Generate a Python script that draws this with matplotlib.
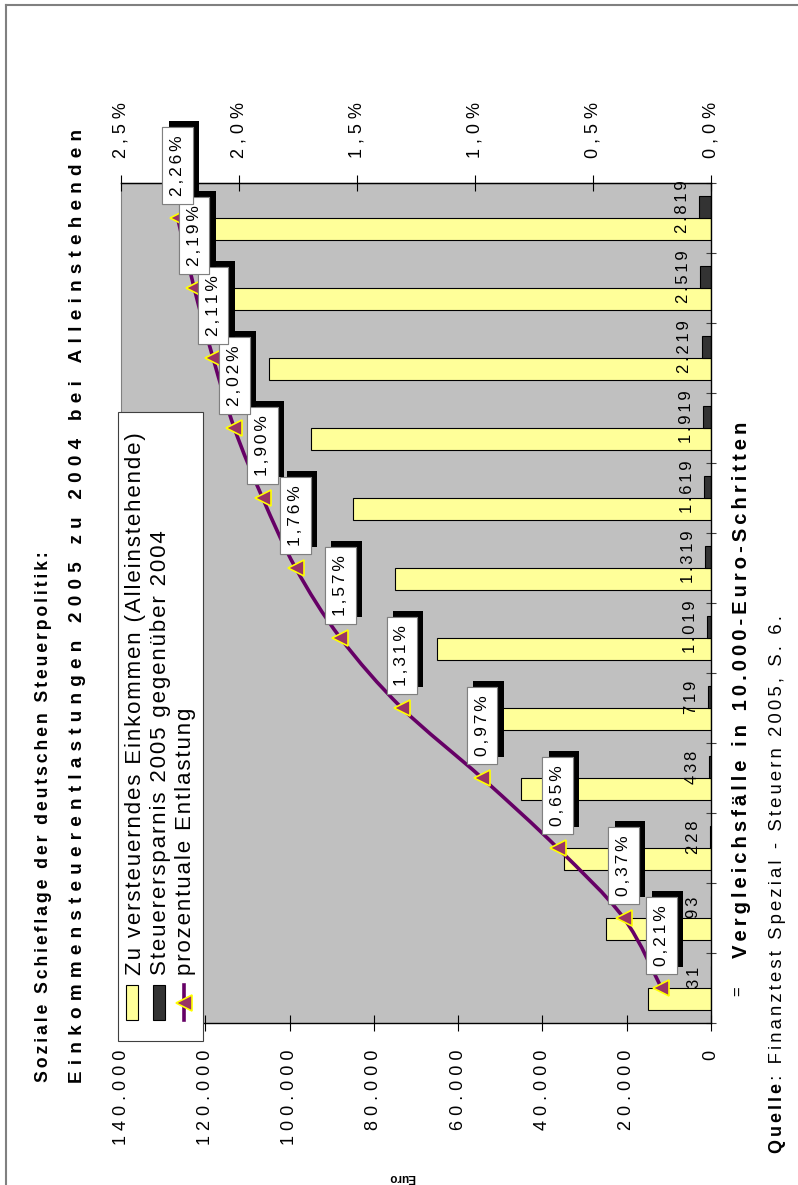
import numpy as np
import matplotlib
matplotlib.use("Agg")
import matplotlib.pyplot as plt
from matplotlib.path import Path
from matplotlib.patches import PathPatch, Rectangle
from matplotlib.lines import Line2D
import matplotlib.patheffects as pe

# ---- data -------------------------------------------------------------
income = [15000, 25000, 35000, 45000, 55000, 65000,
          75000, 85000, 95000, 105000, 115000, 125000]
savings = [31, 93, 228, 438, 719, 1019, 1319, 1619, 1919, 2219, 2519, 2819]
relief_pct = [0.21, 0.37, 0.65, 0.97, 1.31, 1.57, 1.76, 1.90, 2.02, 2.11, 2.19, 2.26]

euro_ticks = [0, 20000, 40000, 60000, 80000, 100000, 120000, 140000]
euro_tick_labels = ["0", "20.000", "40.000", "60.000", "80.000",
                    "100.000", "120.000", "140.000"]
pct_ticks = [0.0, 0.5, 1.0, 1.5, 2.0, 2.5]
pct_tick_labels = ["0,0%", "0,5%", "1,0%", "1,5%", "2,0%", "2,5%"]

legend_labels = ["Zu versteuerndes Einkommen (Alleinstehende)",
                 "Steuerersparnis 2005 gegenüber 2004",
                 "prozentuale Entlastung"]
title_1 = "Soziale Schieflage der deutschen Steuerpolitik:"
title_2 = "Einkommensteuerentlastungen 2005 zu 2004 bei Alleinstehenden"
cat_title = "Vergleichsfälle in 10.000-Euro-Schritten"
source_bold = "Quelle"
source_rest = ": Finanztest Spezial - Steuern 2005, S. 6."

# ---- styling ----------------------------------------------------------
FAM = ["Liberation Sans", "DejaVu Sans"]
plt.rcParams["font.family"] = FAM
YELLOW = "#FFFF99"
DARK = "#333333"
PLUM = "#660066"
MARKER_FACE = "#993366"
GRID_BG = "#C0C0C0"

HAIR = "\u200a"
SIXTH = "\u2006"
THIN = "\u2009"
THIRD = "\u2004"


def track(s, sep):
    """Letter-spaced version of a string."""
    return sep.join(s)


def fmt_thousands(v):
    return f"{v:,}".replace(",", ".")


def fmt_pct(v):
    return f"{v:.2f}".replace(".", ",") + "%"


W, H = 798, 1185
fig = plt.figure(figsize=(W / 100, H / 100), dpi=100)
fig.patch.set_facecolor("white")


def fx(px):
    return px / W


def fy(py):
    return 1 - py / H


# plot area (chart is laid out turned by a quarter turn)
L, R, T, B = 121, 711, 183, 1023
ax = fig.add_axes([fx(L), fy(B), fx(R - L), (B - T) / H])
ax.set_facecolor(GRID_BG)

n = len(income)
ypos = np.arange(n)
bh = 0.314
ax.barh(ypos - bh / 2, income, height=bh, color=YELLOW, edgecolor="black",
        linewidth=0.8, zorder=2)
ax.barh(ypos + bh / 2, savings, height=bh, color=DARK, edgecolor="black",
        linewidth=0.8, zorder=2)
ax.set_xlim(140000, 0)
ax.set_ylim(-0.5, n - 0.5)

ax.set_xticks(euro_ticks, labels=[track(t, " ") for t in euro_tick_labels])
ax.tick_params(axis="x", labelrotation=90, labelsize=13, direction="inout",
               length=12, width=0.8, pad=13, colors="black")
ax.yaxis.tick_right()
ax.set_yticks(np.arange(-0.5, n, 1.0), labels=[])
ax.tick_params(axis="y", direction="inout", length=7, width=0.8,
               colors="#404040")
ax.spines["left"].set_color("#808080")
for s in ("top", "bottom", "right"):
    ax.spines[s].set_color("black")
    ax.spines[s].set_linewidth(1.0)

# savings value labels
for s, y in zip(savings, ypos):
    ax.annotate(track(fmt_thousands(s), SIXTH), xy=(s, y + bh / 2),
                xytext=(-12, 0), textcoords="offset points", rotation=90,
                ha="center", va="center", fontsize=12, color="black",
                zorder=3)

# percentage axis on top
ax2 = ax.twiny()
ax2.set_xlim(2.5, 0)
ax2.set_xticks(pct_ticks, labels=[track(t, " ") for t in pct_tick_labels])
ax2.tick_params(axis="x", labelrotation=90, labelsize=13, direction="inout",
                length=12, width=0.8, pad=12)
ax2.patch.set_visible(False)
for s in ("left", "right", "bottom"):
    ax2.spines[s].set_visible(False)
ax2.spines["top"].set_color("black")


def smooth_path(xs, ys):
    pts = np.column_stack([xs, ys]).astype(float)
    m = len(pts)
    verts = [pts[0]]
    codes = [Path.MOVETO]
    for i in range(m - 1):
        p0 = pts[i - 1] if i > 0 else pts[i]
        p1, p2 = pts[i], pts[i + 1]
        p3 = pts[i + 2] if i + 2 < m else pts[i + 1]
        verts += [p1 + (p2 - p0) / 6, p2 - (p3 - p1) / 6, p2]
        codes += [Path.CURVE4] * 3
    return Path(verts, codes)


ax2.add_patch(PathPatch(smooth_path(relief_pct, ypos), facecolor="none",
                        edgecolor=PLUM, linewidth=2.6, zorder=3,
                        capstyle="round"))
ax2.plot(relief_pct, ypos, ls="none", marker="<", ms=11,
         mfc=MARKER_FACE, mec="#FFFF00", mew=1.2, zorder=4)

for p, y in zip(relief_pct, ypos):
    t = ax2.annotate(track(fmt_pct(p), SIXTH), xy=(p, y), xytext=(0, 16),
                     textcoords="offset points", rotation=90, ha="center",
                     va="bottom", fontsize=12.5, zorder=5,
                     bbox=dict(boxstyle="square,pad=0.45", fc="white",
                               ec="#808080", lw=0.8))
    t.get_bbox_patch().set_path_effects(
        [pe.withSimplePatchShadow(offset=(4.5, 4.5), shadow_rgbFace="black",
                                  alpha=1.0), pe.Normal()])

# legend box
fig.patches.append(Rectangle((fx(118), fy(1041)), fx(85), (1041 - 412) / H,
                             transform=fig.transFigure, facecolor="white",
                             edgecolor="#404040", linewidth=0.8, zorder=6))
key_y0, key_y1 = 985, 1020
fig.patches.append(Rectangle((fx(126), fy(key_y1)), fx(12),
                             (key_y1 - key_y0) / H, transform=fig.transFigure,
                             facecolor=YELLOW, edgecolor="black",
                             linewidth=0.8, zorder=7))
fig.patches.append(Rectangle((fx(153), fy(key_y1)), fx(12),
                             (key_y1 - key_y0) / H, transform=fig.transFigure,
                             facecolor=DARK, edgecolor="black",
                             linewidth=0.8, zorder=7))
fig.lines.append(Line2D([fx(184), fx(184)], [fy(key_y1), fy(key_y0)],
                        transform=fig.transFigure, color=PLUM, lw=2.6,
                        zorder=7))
fig.lines.append(Line2D([fx(184)], [fy((key_y0 + key_y1) / 2)],
                        transform=fig.transFigure, ls="none", marker="<",
                        ms=11, mfc=MARKER_FACE, mec="#FFFF00", mew=1.2,
                        zorder=8))
for lbl, base_x in zip(legend_labels, [141, 166, 191]):
    fig.text(fx(base_x), fy(975), track(lbl, HAIR), rotation=90,
             rotation_mode="anchor", ha="left", va="baseline", fontsize=16,
             zorder=8)

# titles
fig.text(fx(48), fy(1082), track(title_1, SIXTH), rotation=90,
         rotation_mode="anchor", ha="left", va="baseline", fontsize=12.7,
         fontweight="bold")
fig.text(fx(82), fy(1083), track(title_2, THIRD), rotation=90,
         rotation_mode="anchor", ha="left", va="baseline", fontsize=13.6,
         fontweight="bold")

# category axis description
fig.text(fx(739), fy(991), "=", rotation=90, rotation_mode="anchor",
         ha="center", va="center", fontsize=12)
fig.text(fx(747), fy(958), track(cat_title, THIN), rotation=90,
         rotation_mode="anchor", ha="left", va="baseline", fontsize=14.6,
         fontweight="bold")

# source line
src1 = fig.text(fx(782), fy(1153), track(source_bold, SIXTH), rotation=90,
                rotation_mode="anchor", ha="left", va="baseline", fontsize=13,
                fontweight="bold")
renderer = fig.canvas.get_renderer()
bb = src1.get_window_extent(renderer)
fig.text(fx(782), bb.y1 / H, SIXTH + track(source_rest, SIXTH), rotation=90,
         rotation_mode="anchor", ha="left", va="baseline", fontsize=13.3)

# Euro axis name
fig.text(fx(402), fy(1177), "Euro", rotation=180, ha="center", va="center",
         fontsize=8.5, fontweight="bold")

# outer frame
fig.lines.append(Line2D([fx(6), fx(6)], [fy(5), fy(1185)],
                        transform=fig.transFigure, color="#808080", lw=1.5))
fig.lines.append(Line2D([fx(6), fx(798)], [fy(5), fy(5)],
                        transform=fig.transFigure, color="#808080", lw=1.5))

fig.savefig("out.png", dpi=100)
